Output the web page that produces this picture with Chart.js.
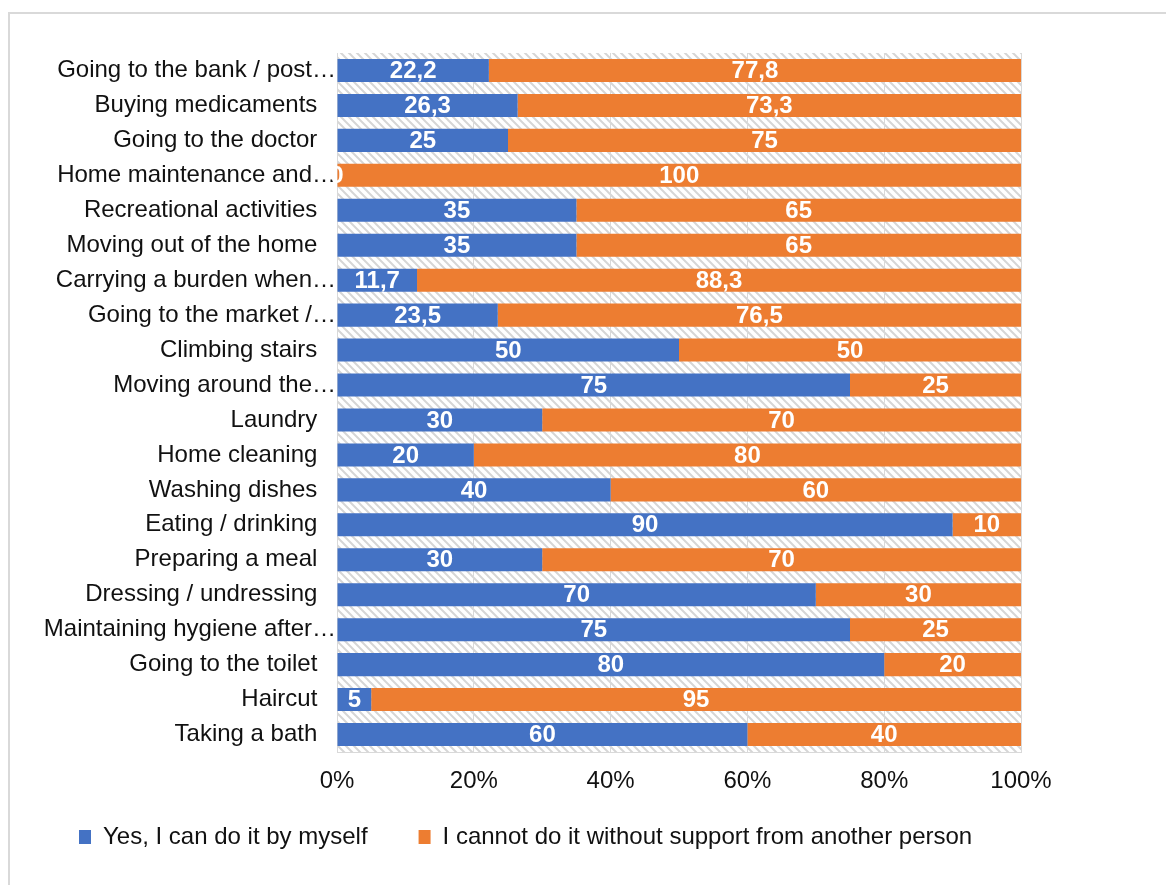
<!DOCTYPE html>
<html>
<head>
<meta charset="utf-8">
<script src="https://cdn.jsdelivr.net/npm/chart.js@4.4.1/dist/chart.umd.min.js"></script>
<style>
    body { margin: 0; background: #fff; }
    #frame {
        position: absolute; left: 8px; top: 12px; width: 1200px; height: 900px;
        border-left: 2px solid #d9d9d9; border-top: 2px solid #d9d9d9;
    }
    #chart { position: absolute; left: 0; top: 0; }
</style>
</head>
<body>
<div id="frame"></div>
<canvas id="chart" width="1166" height="885"></canvas>
<script>
const categories = [
    'Going to the bank / post…',
    'Buying medicaments',
    'Going to the doctor',
    'Home maintenance and…',
    'Recreational activities',
    'Moving out of the home',
    'Carrying a burden when…',
    'Going to the market /…',
    'Climbing stairs',
    'Moving around the…',
    'Laundry',
    'Home cleaning',
    'Washing dishes',
    'Eating / drinking',
    'Preparing a meal',
    'Dressing / undressing',
    'Maintaining hygiene after…',
    'Going to the toilet',
    'Haircut',
    'Taking a bath'
];
const yesValues = [22.2, 26.3, 25, 0, 35, 35, 11.7, 23.5, 50, 75, 30, 20, 40, 90, 30, 70, 75, 80, 5, 60];
const noValues = [77.8, 73.3, 75, 100, 65, 65, 88.3, 76.5, 50, 25, 70, 80, 60, 10, 70, 30, 25, 20, 95, 40];
const seriesNames = ['Yes, I can do it by myself', 'I cannot do it without support from another person'];
const xTickLabels = ['0%', '20%', '40%', '60%', '80%', '100%'];

const FONT = "'Liberation Sans', Arial, sans-serif";
const LEGEND_GAP = 51;

// 100% stacked: each row is scaled to its own total
function shareOf(part, i) {
    const total = yesValues[i] + noValues[i];
    return part / total * 100;
}

// light diagonal hatch behind the bars
function makeHatch() {
    const p = document.createElement('canvas');
    p.width = 8; p.height = 8;
    const c = p.getContext('2d');
    c.fillStyle = '#fff';
    c.fillRect(0, 0, 8, 8);
    c.strokeStyle = '#d6d6d6';
    c.lineWidth = 2;
    c.beginPath();
    c.moveTo(-1, -1); c.lineTo(9, 9);
    c.moveTo(7, -1); c.lineTo(9, 1);
    c.moveTo(-1, 7); c.lineTo(1, 9);
    c.stroke();
    return p;
}

const hatchPlugin = {
    id: 'hatch',
    beforeDraw(chart) {
        const { ctx, chartArea } = chart;
        ctx.save();
        ctx.fillStyle = ctx.createPattern(makeHatch(), 'repeat');
        ctx.fillRect(chartArea.left, chartArea.top, chartArea.right - chartArea.left, chartArea.bottom - chartArea.top);
        ctx.restore();
    }
};

// the legend's padding also pushes it down, so lift it back up under the axis
const legendLift = {
    id: 'legendLift',
    afterLayout(chart) {
        const legend = chart.legend;
        const dy = (chart.chartArea.bottom + 22) - legend.top;
        legend.top += dy;
        legend.bottom += dy;
    }
};

const labelSources = [yesValues, noValues];

const barLabels = {
    id: 'barLabels',
    afterDatasetsDraw(chart) {
        const ctx = chart.ctx;
        ctx.save();
        ctx.font = 'bold 24px ' + FONT;
        ctx.fillStyle = '#fff';
        ctx.textAlign = 'center';
        ctx.textBaseline = 'middle';
        chart.data.datasets.forEach((ds, i) => {
            chart.getDatasetMeta(i).data.forEach((bar, j) => {
                const { x, y, base } = bar.getProps(['x', 'y', 'base'], true);
                const text = String(labelSources[i][j]).replace('.', ',');
                ctx.fillText(text, (x + base) / 2, y + 1);
            });
        });
        ctx.restore();
    }
};

new Chart(document.getElementById('chart'), {
    type: 'bar',
    data: {
        labels: categories,
        datasets: [
            {
                label: seriesNames[0],
                data: yesValues.map(shareOf),
                backgroundColor: '#4472C4',
                borderWidth: 0
            },
            {
                label: seriesNames[1],
                data: noValues.map(shareOf),
                backgroundColor: '#ED7D31',
                borderWidth: 0
            }
        ]
    },
    options: {
        indexAxis: 'y',
        responsive: false,
        animation: false,
        barPercentage: 1,
        categoryPercentage: 0.66,
        layout: { padding: { top: 53, right: 20, bottom: 0, left: 28 } },
        scales: {
            x: {
                stacked: true,
                min: 0,
                max: 100,
                afterFit(scale) { scale.height = 48; },
                grid: { color: '#d9d9d9', drawTicks: false },
                border: { display: true, color: '#d9d9d9' },
                ticks: {
                    stepSize: 20,
                    padding: 15,
                    color: '#111',
                    font: { family: FONT, size: 24 },
                    callback: (v) => xTickLabels[v / 20]
                }
            },
            y: {
                stacked: true,
                afterFit(scale) { scale.width = 309; },
                grid: { display: false, drawTicks: false },
                border: { display: true, color: '#d9d9d9' },
                ticks: {
                    autoSkip: false,
                    padding: 1,
                    color: '#111',
                    font: { family: FONT, size: 24 },
                    // shortened labels run right up to the axis, the rest sit a little off it
                    callback(v, i) {
                        const name = categories[i];
                        return name.endsWith('…') ? name : name + '\u2002 ';
                    }
                }
            },
            // empty strip on the right side of the plot
            rightGap: {
                type: 'linear',
                position: 'right',
                afterFit(scale) { scale.width = 125; },
                grid: { display: false },
                border: { display: false },
                ticks: { display: false }
            }
        },
        plugins: {
            legend: {
                position: 'bottom',
                align: 'start',
                labels: {
                    boxWidth: 12,
                    boxHeight: 14,
                    padding: LEGEND_GAP,
                    color: '#111',
                    font: { family: FONT, size: 24 }
                }
            },
            tooltip: { enabled: false }
        }
    },
    plugins: [hatchPlugin, legendLift, barLabels]
});
</script>
</body>
</html>
